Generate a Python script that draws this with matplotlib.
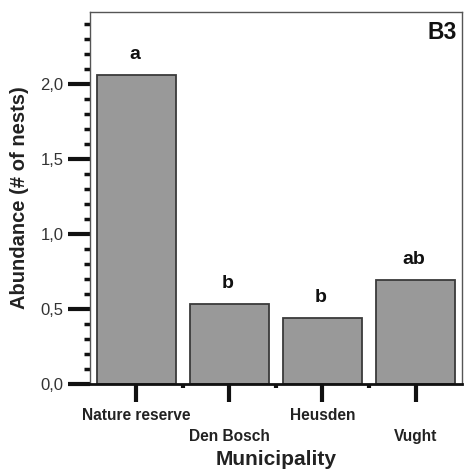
import matplotlib.pyplot as plt
from matplotlib.ticker import MultipleLocator, FuncFormatter

municipalities = ["Nature reserve", "Den Bosch", "Heusden", "Vught"]
abundance = [2.06, 0.53, 0.44, 0.69]
groups = ["a", "b", "b", "ab"]

plt.rcParams["font.family"] = ["Liberation Sans", "DejaVu Sans"]

fig = plt.figure(figsize=(4.67, 4.74), dpi=100)
ax = fig.add_axes([0.1927, 0.19, 0.7966, 0.7847])

x = range(len(municipalities))
ax.bar(x, abundance, width=0.85, color="#999999", edgecolor="#3a3a3a", linewidth=1.3, zorder=2)

for i, (v, g) in enumerate(zip(abundance, groups)):
    ax.text(i - 0.02, v + 0.08, g, ha="center", va="bottom",
            fontsize=14, fontweight="bold", color="#111111")

ax.text(0.985, 0.975, "B3", transform=ax.transAxes, ha="right", va="top",
        fontsize=16.5, fontweight="bold", color="#111111")

ax.set_xlim(-0.5, 3.5)
ax.set_ylim(0, 2.48)

# y ticks
ax.yaxis.set_major_locator(MultipleLocator(0.5))
ax.yaxis.set_minor_locator(MultipleLocator(0.1))
ax.yaxis.set_major_formatter(FuncFormatter(lambda v, p: f"{v:.1f}".replace(".", ",")))
ax.tick_params(axis="y", which="major", length=16, width=3, labelsize=12,
               colors="#111111", labelcolor="#333333", pad=3)
ax.tick_params(axis="y", which="minor", length=4, width=2.5, color="#111111")

# x ticks, staggered labels
ax.set_xticks(list(x))
ax.set_xticklabels([m if i % 2 == 0 else "\n" + m for i, m in enumerate(municipalities)],
                   fontweight="bold", fontsize=11.2, color="#222222", linespacing=1.5)
ax.set_xticks([0.5, 1.5, 2.5], minor=True)
ax.tick_params(axis="x", which="major", length=13, width=3, color="#111111", pad=4)
ax.tick_params(axis="x", which="minor", length=3, width=3, color="#111111")

for s in ["top", "right", "left"]:
    ax.spines[s].set_linewidth(1.0)
    ax.spines[s].set_color("#555555")
ax.spines["bottom"].set_linewidth(2)
ax.spines["bottom"].set_color("#111111")

ax.set_ylabel("Abundance (# of nests)", fontsize=14.5, fontweight="bold", color="#222222", labelpad=8)
ax.set_xlabel("Municipality", fontsize=15, fontweight="bold", color="#222222", labelpad=5)

fig.savefig("out.png", dpi=100)
